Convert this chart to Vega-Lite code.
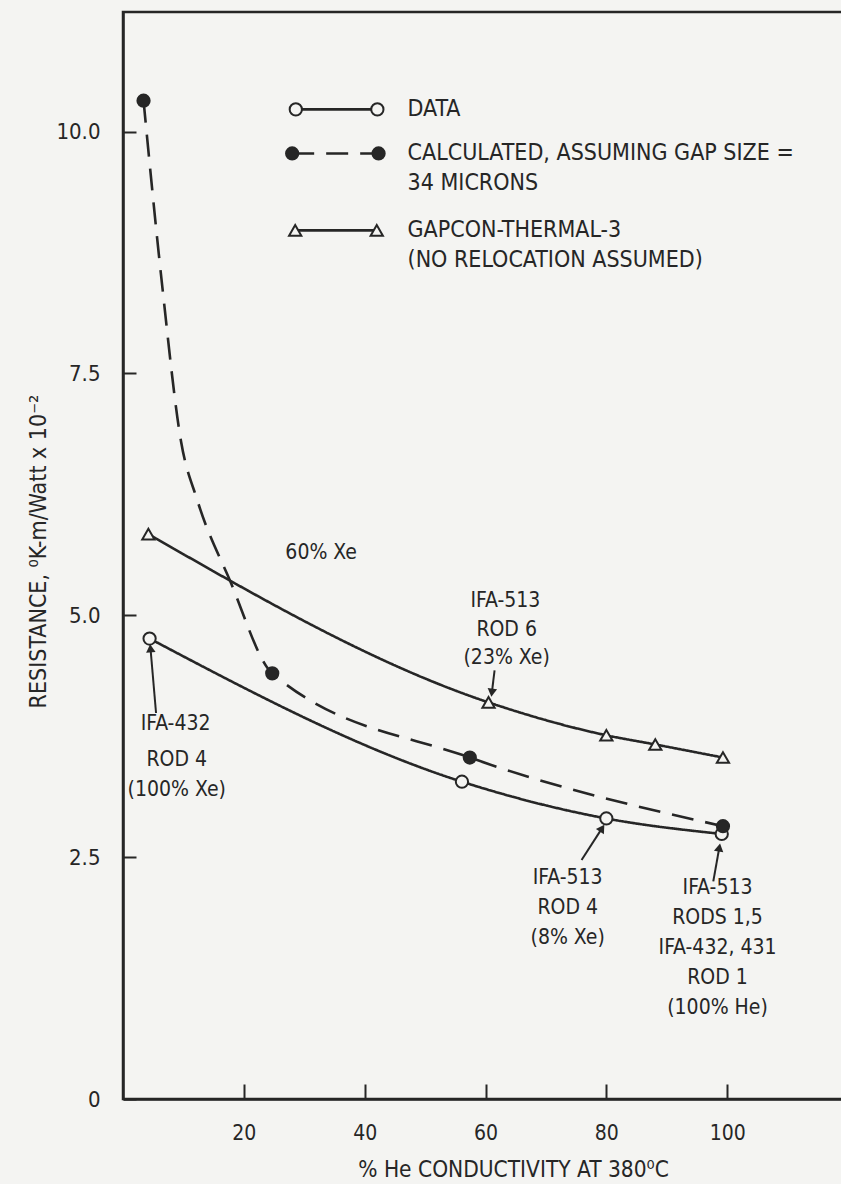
{
  "$schema": "https://vega.github.io/schema/vega-lite/v6.json",
  "width": 722,
  "height": 1087,
  "autosize": "none",
  "padding": {"left": 123, "top": 12, "right": 0, "bottom": 85},
  "background": "#f4f4f2",
  "config": {
    "font": "Liberation Sans Narrow, DejaVu Sans Condensed, Arial Narrow, sans-serif",
    "view": {"stroke": "#262626", "strokeWidth": 2.5},
    "axis": {
      "grid": false,
      "domainColor": "#262626",
      "domainWidth": 2.5,
      "tickColor": "#262626",
      "tickWidth": 2,
      "labelColor": "#262626",
      "titleColor": "#262626",
      "labelFontWeight": "normal",
      "titleFontWeight": "normal",
      "labelFont": "Liberation Sans Narrow, DejaVu Sans Condensed, Arial Narrow, sans-serif",
      "titleFont": "Liberation Sans Narrow, DejaVu Sans Condensed, Arial Narrow, sans-serif"
    },
    "text": {"color": "#262626", "fontSize": 21}
  },
  "datasets": {
    "series": [
      {"series": "DATA", "he": 4.4, "resistance": 4.76, "marked": true},
      {"series": "DATA", "he": 56.1, "resistance": 3.28, "marked": true},
      {"series": "DATA", "he": 80.0, "resistance": 2.9, "marked": true},
      {"series": "DATA", "he": 99.1, "resistance": 2.74, "marked": true},
      {"series": "CALCULATED", "he": 3.4, "resistance": 10.32, "marked": true},
      {"series": "CALCULATED", "he": 6.5, "resistance": 8.4, "marked": false},
      {"series": "CALCULATED", "he": 9.6, "resistance": 6.8, "marked": false},
      {"series": "CALCULATED", "he": 12.3, "resistance": 6.19, "marked": false},
      {"series": "CALCULATED", "he": 17.7, "resistance": 5.36, "marked": false},
      {"series": "CALCULATED", "he": 24.7, "resistance": 4.4, "marked": true},
      {"series": "CALCULATED", "he": 57.4, "resistance": 3.53, "marked": true},
      {"series": "CALCULATED", "he": 99.3, "resistance": 2.82, "marked": true},
      {"series": "GAPCON", "he": 4.2, "resistance": 5.84, "marked": true},
      {"series": "GAPCON", "he": 60.5, "resistance": 4.1, "marked": true},
      {"series": "GAPCON", "he": 80.0, "resistance": 3.76, "marked": true},
      {"series": "GAPCON", "he": 88.1, "resistance": 3.665, "marked": true},
      {"series": "GAPCON", "he": 99.3, "resistance": 3.53, "marked": true}
    ],
    "keySamples": [
      {"series": "DATA", "he": 28.6, "resistance": 10.23},
      {"series": "DATA", "he": 42.1, "resistance": 10.23},
      {"series": "CALCULATED", "he": 28.0, "resistance": 9.775},
      {"series": "CALCULATED", "he": 42.3, "resistance": 9.775},
      {"series": "GAPCON", "he": 28.5, "resistance": 8.98},
      {"series": "GAPCON", "he": 42.0, "resistance": 8.98}
    ],
    "keyText": [
      {"text": "DATA", "he": 47.1, "resistance": 10.23},
      {"text": "CALCULATED, ASSUMING GAP SIZE =", "he": 47.1, "resistance": 9.775},
      {"text": "34 MICRONS", "he": 47.1, "resistance": 9.465},
      {"text": "GAPCON-THERMAL-3", "he": 47.1, "resistance": 8.98},
      {"text": "(NO RELOCATION ASSUMED)", "he": 47.1, "resistance": 8.672}
    ],
    "notes": [
      {"text": "60% Xe", "he": 32.8, "resistance": 5.64},
      {"text": "IFA-513", "he": 63.3, "resistance": 5.147},
      {"text": "ROD 6", "he": 63.5, "resistance": 4.847},
      {"text": "(23% Xe)", "he": 63.5, "resistance": 4.564},
      {"text": "IFA-432", "he": 8.7, "resistance": 3.877},
      {"text": "ROD 4", "he": 8.9, "resistance": 3.505},
      {"text": "(100% Xe)", "he": 8.9, "resistance": 3.195},
      {"text": "IFA-513", "he": 73.6, "resistance": 2.285},
      {"text": "ROD 4", "he": 73.6, "resistance": 1.975},
      {"text": "(8% Xe)", "he": 73.6, "resistance": 1.666},
      {"text": "IFA-513", "he": 98.4, "resistance": 2.18},
      {"text": "RODS 1,5", "he": 98.4, "resistance": 1.87},
      {"text": "IFA-432, 431", "he": 98.4, "resistance": 1.56},
      {"text": "ROD 1", "he": 98.4, "resistance": 1.25},
      {"text": "(100% He)", "he": 98.4, "resistance": 0.94}
    ],
    "arrows": [
      {"he": 5.47, "resistance": 3.99, "he2": 4.55, "resistance2": 4.66},
      {"he": 61.5, "resistance": 4.43, "he2": 61.05, "resistance2": 4.2},
      {"he": 75.9, "resistance": 2.47, "he2": 79.3, "resistance2": 2.8},
      {"he": 97.7, "resistance": 2.25, "he2": 98.7, "resistance2": 2.6}
    ]
  },
  "layer": [
    {
      "data": {"name": "series"},
      "mark": {"type": "line", "interpolate": "monotone", "strokeWidth": 2.6, "color": "#262626"},
      "encoding": {
        "x": {
          "field": "he",
          "type": "quantitative",
          "scale": {"domain": [0, 119.5], "nice": false, "zero": false},
          "axis": {
            "values": [20, 40, 60, 80, 100],
            "tickSize": -15,
            "labelPadding": 38,
            "labelFontSize": 21,
            "title": "% He CONDUCTIVITY AT 380⁰C",
            "titleFontSize": 22.5,
            "titleX": 390,
            "titleY": 70,
            "titleBaseline": "middle",
            "titleAlign": "center",
            "titleAnchor": null
          }
        },
        "y": {
          "field": "resistance",
          "type": "quantitative",
          "scale": {"domain": [0, 11.237], "nice": false, "zero": false},
          "axis": {
            "values": [0, 2.5, 5, 7.5, 10],
            "labelExpr": "datum.value == 0 ? '0' : format(datum.value, '.1f')",
            "tickSize": -13,
            "labelPadding": 36,
            "labelFontSize": 22,
            "title": "RESISTANCE, ⁰K-m/Watt x 10⁻²",
            "titleFontSize": 23,
            "titleAngle": -90,
            "titleX": -85,
            "titleY": 539,
            "titleBaseline": "middle",
            "titleAlign": "center",
            "titleAnchor": null
          }
        },
        "detail": {"field": "series"},
        "strokeDash": {
          "field": "series",
          "type": "nominal",
          "scale": {"domain": ["DATA", "CALCULATED", "GAPCON"], "range": [[1, 0], [22, 12], [1, 0]]},
          "legend": null
        }
      }
    },
    {
      "data": {"name": "series"},
      "transform": [{"filter": "datum.marked"}],
      "mark": {"type": "point", "stroke": "#262626", "strokeWidth": 2, "size": 150, "opacity": 1, "fillOpacity": 1},
      "encoding": {
        "x": {"field": "he", "type": "quantitative"},
        "y": {"field": "resistance", "type": "quantitative"},
        "shape": {
          "field": "series",
          "type": "nominal",
          "scale": {"domain": ["DATA", "CALCULATED", "GAPCON"], "range": ["circle", "circle", "triangle-up"]},
          "legend": null
        },
        "fill": {
          "field": "series",
          "type": "nominal",
          "scale": {"domain": ["DATA", "CALCULATED", "GAPCON"], "range": ["#f4f4f2", "#262626", "#f4f4f2"]},
          "legend": null
        }
      }
    },
    {
      "data": {"name": "keySamples"},
      "mark": {"type": "line", "strokeWidth": 2.6, "color": "#262626"},
      "encoding": {
        "x": {"field": "he", "type": "quantitative"},
        "y": {"field": "resistance", "type": "quantitative"},
        "detail": {"field": "series"},
        "strokeDash": {
          "field": "series",
          "type": "nominal",
          "scale": {"domain": ["DATA", "CALCULATED", "GAPCON"], "range": [[1, 0], [22, 12], [1, 0]]},
          "legend": null
        }
      }
    },
    {
      "data": {"name": "keySamples"},
      "mark": {"type": "point", "stroke": "#262626", "strokeWidth": 2, "size": 150, "opacity": 1, "fillOpacity": 1},
      "encoding": {
        "x": {"field": "he", "type": "quantitative"},
        "y": {"field": "resistance", "type": "quantitative"},
        "shape": {
          "field": "series",
          "type": "nominal",
          "scale": {"domain": ["DATA", "CALCULATED", "GAPCON"], "range": ["circle", "circle", "triangle-up"]},
          "legend": null
        },
        "fill": {
          "field": "series",
          "type": "nominal",
          "scale": {"domain": ["DATA", "CALCULATED", "GAPCON"], "range": ["#f4f4f2", "#262626", "#f4f4f2"]},
          "legend": null
        }
      }
    },
    {
      "data": {"name": "keyText"},
      "mark": {"type": "text", "align": "left", "baseline": "middle", "fontSize": 23},
      "encoding": {
        "x": {"field": "he", "type": "quantitative"},
        "y": {"field": "resistance", "type": "quantitative"},
        "text": {"field": "text"}
      }
    },
    {
      "data": {"name": "notes"},
      "mark": {"type": "text", "align": "center", "baseline": "middle", "fontSize": 21},
      "encoding": {
        "x": {"field": "he", "type": "quantitative"},
        "y": {"field": "resistance", "type": "quantitative"},
        "text": {"field": "text"}
      }
    },
    {
      "data": {"name": "arrows"},
      "mark": {"type": "rule", "strokeWidth": 2, "color": "#262626"},
      "encoding": {
        "x": {"field": "he", "type": "quantitative"},
        "y": {"field": "resistance", "type": "quantitative"},
        "x2": {"field": "he2"},
        "y2": {"field": "resistance2"}
      }
    },
    {
      "data": {"name": "arrows"},
      "transform": [
        {"calculate": "atan2((datum.he2 - datum.he) * 6.04, (datum.resistance2 - datum.resistance) * 96.75) * 180 / PI", "as": "heading"}
      ],
      "mark": {"type": "point", "shape": "triangle-up", "filled": true, "color": "#262626", "size": 90, "opacity": 1},
      "encoding": {
        "x": {"field": "he2", "type": "quantitative"},
        "y": {"field": "resistance2", "type": "quantitative"},
        "angle": {"field": "heading", "type": "quantitative", "scale": null}
      }
    }
  ]
}
